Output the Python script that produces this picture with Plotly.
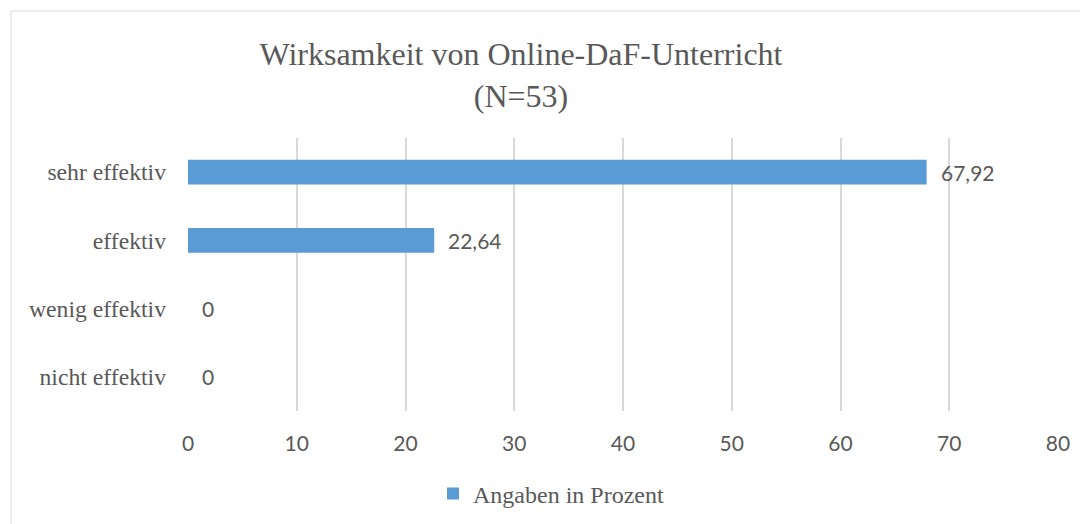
import plotly.graph_objects as go

categories = ["sehr effektiv", "effektiv", "wenig effektiv", "nicht effektiv"]
values = [67.92, 22.64, 0, 0]
series_name = "Angaben in Prozent"
title_lines = ["Wirksamkeit von Online-DaF-Unterricht", "(N=53)"]
x_ticks = [0, 10, 20, 30, 40, 50, 60, 70, 80]

TEXT = "#595959"
BAR = "#5B9BD5"
GRID = "#D9D9D9"
SERIF = "Liberation Serif, Times New Roman, serif"
SANS = "Lato, Open Sans, sans-serif"

# page shows the figure offset by the 8px body margin
OFF = 8
W, H = 1088, 524
L, R, T = 188 - OFF, 1088 - (1058 - OFF), 138 - OFF
PB = 411 - OFF
B = H - PB
pw, ph = W - L - R, PB - T

fig = go.Figure()
fig.add_trace(go.Bar(
    x=values, y=categories, orientation="h", name=series_name,
    marker=dict(color=BAR, line=dict(width=0)),
    width=0.36, showlegend=True,
))

def fmt(v):
    s = f"{v:g}"
    return s.replace(".", ",")

for c, v in zip(categories, values):
    fig.add_annotation(x=v, y=c, xref="x", yref="y", text=fmt(v),
                       showarrow=False, xanchor="left", xshift=12,
                       font=dict(family=SANS, size=21, color=TEXT))

# outer chart border
fig.add_shape(type="rect", xref="paper", yref="paper",
              x0=(11 - OFF - L) / pw, x1=1.2, y0=-1.0, y1=(PB - (11 - OFF)) / ph,
              line=dict(color=GRID, width=1), fillcolor="rgba(0,0,0,0)", layer="below")

fig.update_layout(
    width=W, height=H,
    margin=dict(l=L, r=R, t=T, b=B, autoexpand=False),
    paper_bgcolor="white", plot_bgcolor="white",
    title=dict(text="<br>".join(title_lines), x=(521 - OFF) / W, xanchor="center",
               xref="container", yref="container", y=1 - 57 / H, yanchor="middle",
               font=dict(family=SERIF, size=32, color=TEXT)),
    xaxis=dict(range=[0, 80], tickvals=x_ticks, showgrid=True, gridcolor=GRID, gridwidth=1.5,
               zeroline=False, showline=False, ticks="", ticklabelstandoff=18,
               tickfont=dict(family=SANS, size=21, color=TEXT), fixedrange=True),
    yaxis=dict(autorange="reversed", showgrid=False, zeroline=False, showline=False,
               ticks="", ticklabelstandoff=21,
               tickfont=dict(family=SERIF, size=23.7, color=TEXT)),
    legend=dict(orientation="h", x=(447 - 14 - OFF - L) / pw, xanchor="left",
                y=-((494 - OFF) - PB) / ph,
                yanchor="middle", font=dict(family=SERIF, size=24, color=TEXT),
                itemwidth=30, bgcolor="rgba(0,0,0,0)"),
    showlegend=True,
)

fig.write_html("out.html")
